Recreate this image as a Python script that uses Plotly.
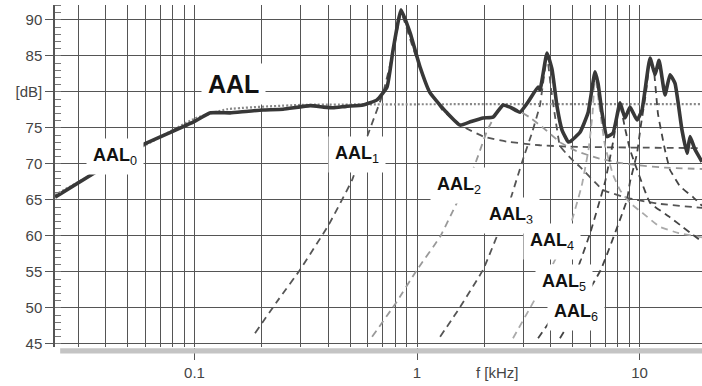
import math
import plotly.graph_objects as go

# ---------------- data (f in kHz, level in dB) ----------------
main_f = [0.0236, 0.0365, 0.056, 0.0985, 0.118, 0.1445, 0.17, 0.203, 0.25, 0.331, 0.38, 0.419,
          0.48, 0.572, 0.661, 0.733, 0.78, 0.848, 0.931, 1.031, 1.143, 1.364, 1.561, 1.75, 1.98,
          2.196, 2.435, 2.618, 2.904, 3.155, 3.499, 3.571, 3.839, 4.045, 4.258, 4.484, 4.771,
          4.871, 5.402, 5.869, 6.31, 6.51, 6.785, 7.144, 7.601, 8.173, 8.607, 9.064, 9.745,
          10.26, 11.15, 11.74, 12.24, 13.02, 13.71, 14.44, 15.52, 16.35, 16.87, 17.76, 19.09]
main_db = [65.4, 69.0, 72.4, 75.8, 77.1, 77.1, 77.3, 77.5, 77.6, 78.1, 77.9, 77.8,
           78.0, 78.2, 78.9, 80.7, 85.8, 91.4, 88.2, 83.5, 79.9, 77.1, 75.4, 75.9, 76.4,
           76.5, 78.2, 77.9, 77.2, 78.6, 80.7, 80.3, 85.4, 83.1, 78.0, 74.7, 73.1,
           73.1, 74.4, 77.1, 82.8, 81.2, 77.1, 73.8, 74.3, 78.5, 76.4, 77.9, 76.1,
           77.5, 84.7, 82.4, 84.4, 79.6, 82.4, 81.2, 74.7, 71.5, 73.8, 72.0, 70.3]

aal0_f = [0.0236, 0.06, 0.1, 0.14, 0.3, 19.09]
aal0_db = [65.7, 72.6, 76.3, 77.6, 78.2, 78.3]

aal1_f = [0.187, 0.24, 0.298, 0.4, 0.511, 0.6, 0.703, 0.78, 0.848, 0.95, 1.1, 1.3, 1.587,
          1.99, 2.53, 3.57, 4.87, 8.0, 19.09]
aal1_db = [46.5, 51.3, 55.3, 61.5, 67.8, 74.0, 79.8, 85.5, 91.0, 86.5, 81.0, 77.5, 75.3,
           73.8, 73.1, 72.6, 72.4, 72.3, 72.2]

aal2_f = [0.628, 0.8, 1.0, 1.27, 1.56, 1.8, 2.07, 2.3, 2.5, 2.8, 3.2, 3.7, 4.4, 5.2, 6.5,
          8.0, 10.0, 13.0, 19.09]
aal2_db = [46.0, 50.6, 55.3, 59.9, 65.5, 69.5, 74.7, 77.3, 78.2, 77.6, 76.5, 75.0, 73.0,
           71.8, 70.8, 70.2, 69.8, 69.5, 69.3]

aal3_f = [1.27, 1.56, 1.98, 2.5, 2.99, 3.3, 3.57, 3.84, 4.0, 4.2, 4.39, 4.9, 5.4, 6.85,
          8.78, 12.0, 19.09]
aal3_db = [46.0, 50.1, 55.3, 63.0, 70.6, 74.5, 78.2, 85.0, 80.5, 76.0, 72.5, 70.8, 69.6,
           66.4, 65.3, 64.5, 63.9]

aal4_f = [2.7, 3.5, 4.3, 4.87, 5.5, 5.9, 6.15, 6.31, 6.6, 7.0, 7.6, 8.2, 9.06, 10.5, 12.3,
          15.0, 19.09]
aal4_db = [45.8, 52.0, 57.5, 61.3, 67.0, 72.0, 77.0, 82.5, 78.0, 72.5, 68.5, 66.3, 64.6,
           63.0, 61.3, 60.4, 59.8]

aal5_f = [3.5, 4.08, 5.24, 6.0, 7.0, 7.6, 8.17, 8.6, 9.06, 9.75, 11.15, 13.7, 19.09]
aal5_db = [45.8, 48.8, 55.3, 60.4, 67.5, 73.0, 78.3, 75.0, 72.0, 69.2, 64.6, 62.6, 59.2]

aal6_f = [4.39, 6.7, 8.78, 9.06, 9.75, 10.1, 10.7, 11.15, 11.6, 12.1, 13.0, 13.7, 15.2,
          17.4, 19.09]
aal6_db = [45.8, 55.3, 65.0, 67.5, 71.5, 75.0, 80.0, 84.5, 83.0, 77.0, 72.0, 69.2, 66.9,
           65.4, 64.2]

y_ticks = [45, 50, 55, 60, 65, 70, 75, 80, 85, 90]
y_ticktext = ["45", "50", "55", "60", "65", "70", "75", "[dB]", "85", "90"]
x_ticks = [0.1, 1, 10]
x_ticktext = ["0.1", "1", "10"]
x_minor = [m * d for d in (0.01, 0.1, 1) for m in range(2, 10)]

# label positions: (text, f, dB)
labels = [
    ("<b>AAL</b><sub>0</sub>", 0.0439, 71.1),
    ("<b>AAL</b><sub>1</sub>", 0.537, 71.25),
    ("<b>AAL</b><sub>2</sub>", 1.545, 67.0),
    ("<b>AAL</b><sub>3</sub>", 2.64, 62.9),
    ("<b>AAL</b><sub>4</sub>", 4.05, 59.3),
    ("<b>AAL</b><sub>5</sub>", 4.58, 53.5),
    ("<b>AAL</b><sub>6</sub>", 5.19, 49.4),
]

FONT = "Liberation Sans, Arial, sans-serif"
fig = go.Figure()

DASH = "7px,5px"
for fx, dbv, col in [(aal1_f, aal1_db, "#555"), (aal2_f, aal2_db, "#999"),
                     (aal3_f, aal3_db, "#555"), (aal4_f, aal4_db, "#aaa"),
                     (aal5_f, aal5_db, "#444"), (aal6_f, aal6_db, "#444")]:
    fig.add_trace(go.Scatter(x=fx, y=dbv, mode="lines",
                             line=dict(color=col, width=1.8, dash=DASH, shape="spline", smoothing=0.3),
                             hoverinfo="skip"))

fig.add_trace(go.Scatter(x=aal0_f, y=aal0_db, mode="lines",
                         line=dict(color="#888", width=2.2, dash="2px,2px", shape="spline", smoothing=0.4),
                         hoverinfo="skip"))
fig.add_trace(go.Scatter(x=main_f, y=main_db, mode="lines",
                         line=dict(color="#383838", width=3.6, shape="spline", smoothing=0.4),
                         hoverinfo="skip"))

for txt, fx, dbv in labels:
    fig.add_annotation(x=math.log10(fx), y=dbv, xref="x", yref="y", text=txt, showarrow=False,
                       bgcolor="white", borderpad=6,
                       font=dict(size=18, color="#111", family=FONT))

fig.add_annotation(x=math.log10(0.149), y=81.1, xref="x", yref="y", text="<b>AAL</b>",
                   showarrow=False, bgcolor="white", borderpad=6,
                   font=dict(size=25, color="#111", family=FONT))

fig.add_annotation(x=math.log10(2.31), y=-0.076, xref="x", yref="paper", text="f [kHz]",
                   showarrow=False, yanchor="middle",
                   font=dict(size=15, color="#444", family=FONT))

fig.add_shape(type="rect", xref="paper", yref="paper", x0=0.008, x1=1.0, y0=-0.019, y1=-0.004,
              fillcolor="#c4c4c4", line=dict(width=0), layer="above")

fig.update_layout(
    width=702, height=386,
    margin=dict(l=55, r=0, t=5, b=39, autoexpand=False),
    plot_bgcolor="white", paper_bgcolor="white",
    showlegend=False,
    font=dict(family=FONT, size=15, color="#444"),
    xaxis=dict(type="log", range=[math.log10(0.0236), math.log10(19.09)], automargin=False,
               tickvals=x_ticks, ticktext=x_ticktext, ticks="outside", ticklen=12,
               tickcolor="#555", showgrid=True, gridcolor="#555", gridwidth=1,
               minor=dict(tickvals=x_minor, showgrid=True, gridcolor="#555", gridwidth=1, ticks=""),
               showline=False, zeroline=False, tickfont=dict(size=15, color="#444")),
    yaxis=dict(range=[44.58, 92.08], tickvals=y_ticks, ticktext=y_ticktext, automargin=False,
               ticks="outside", ticklen=8, tickcolor="#555",
               showgrid=True, gridcolor="#555", gridwidth=1,
               showline=True, linecolor="#555", linewidth=1.5, zeroline=False,
               minor=dict(dtick=1, ticks="inside", ticklen=6, tickcolor="#777", showgrid=False),
               tickfont=dict(size=15, color="#444")),
)

fig.write_html("out.html", config={"displayModeBar": False},
               post_script="document.body.style.margin='0px';document.body.style.overflow='hidden';")
